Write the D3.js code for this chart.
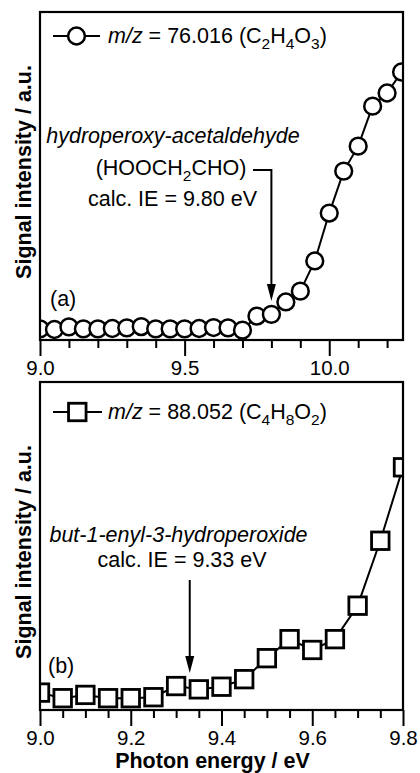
<!DOCTYPE html>
<html>
<head>
<meta charset="utf-8">
<script src="https://cdn.jsdelivr.net/npm/d3@7"></script>
<style>
  html, body { margin: 0; padding: 0; background: #fff; }
  svg { display: block; }
  text { font-family: "Liberation Sans", Arial, sans-serif; fill: #000; }
</style>
</head>
<body>
<svg id="chart" width="420" height="773"></svg>
<script>
// Panel (a): m/z = 76.016 photoionization efficiency curve
const energyA = [9.00, 9.05, 9.10, 9.15, 9.20, 9.25, 9.30, 9.35, 9.40, 9.45, 9.50, 9.55, 9.60,
                 9.65, 9.70, 9.75, 9.80, 9.85, 9.90, 9.95, 10.00, 10.05, 10.10, 10.15, 10.20, 10.25];
const signalA = [3.4, 3.2, 4.0, 3.4, 3.4, 3.5, 3.7, 4.1, 3.4, 3.4, 3.4, 3.5, 3.8,
                 3.7, 3.0, 7.3, 7.8, 11.6, 14.9, 24.1, 38.7, 51.5, 59.1, 71.3, 75.3, 81.7];
const ticksA = [9.0, 9.1, 9.2, 9.3, 9.4, 9.5, 9.6, 9.7, 9.8, 9.9, 10.0, 10.1, 10.2];
const tickLabelsA = [9.0, 9.5, 10.0];

// Panel (b): m/z = 88.052 photoionization efficiency curve
const energyB = [9.00, 9.05, 9.10, 9.15, 9.20, 9.25, 9.30, 9.35, 9.40, 9.45, 9.50, 9.55, 9.60,
                 9.65, 9.70, 9.75, 9.80];
const signalB = [5.3, 3.6, 4.6, 3.6, 3.6, 3.9, 7.3, 6.3, 7.1, 9.4, 15.8, 21.6, 18.3,
                 21.6, 31.8, 51.6, 74.0];
const ticksB = [9.0, 9.05, 9.1, 9.15, 9.2, 9.25, 9.3, 9.35, 9.4, 9.45, 9.5, 9.55, 9.6,
                9.65, 9.7, 9.75, 9.8];
const tickLabelsB = [9.0, 9.2, 9.4, 9.6, 9.8];

// Calculated ionization energies marked with arrows
const ionizationEnergies = [9.80, 9.33];

const svg = d3.select("#chart");
const FONT = "Liberation Sans, Arial, sans-serif";
const R = 8.4;      // circle marker radius
const SQ = 17.5;    // square marker side

function panel(cfg) {
  const { left, right, top, bottom, xDomain, energies, signals, ticks, tickLabels, id } = cfg;
  const x = d3.scaleLinear().domain(xDomain).range([left, right]);
  const y = d3.scaleLinear().domain([0, 100]).range([bottom, top]);
  const g = svg.append("g");

  g.append("clipPath").attr("id", id)
    .append("rect").attr("x", left).attr("y", top)
    .attr("width", right - left).attr("height", bottom - top);

  // minor / major ticks below the axis
  const axis = d3.axisBottom(x).tickValues(ticks)
    .tickSize(8).tickSizeOuter(0).tickFormat("");
  const ax = g.append("g").attr("transform", `translate(0,${bottom})`).call(axis);
  ax.select(".domain").remove();
  ax.selectAll(".tick line").attr("stroke", "#000").attr("stroke-width", 2)
    .attr("y2", d => tickLabels.some(t => Math.abs(t - d) < 1e-9) ? 16 : 8);

  const lab = d3.axisBottom(x).tickValues(tickLabels).tickSize(0)
    .tickPadding(0).tickFormat(d3.format(".1f"));
  const lx = g.append("g").attr("transform", `translate(0,${bottom})`).call(lab);
  lx.select(".domain").remove();
  lx.selectAll(".tick text").attr("font-family", FONT).attr("font-size", 20.5)
    .attr("fill", "#000").attr("dy", null).attr("y", 35);

  const plot = g.append("g").attr("clip-path", `url(#${id})`);
  const pts = energies.map((e, i) => [e, signals[i]]);
  plot.append("path").datum(pts)
    .attr("fill", "none").attr("stroke", "#000").attr("stroke-width", 2)
    .attr("d", d3.line().x(d => x(d[0])).y(d => y(d[1])));

  // frame
  g.append("rect").attr("x", left).attr("y", top)
    .attr("width", right - left).attr("height", bottom - top)
    .attr("fill", "none").attr("stroke", "#000").attr("stroke-width", 2.2);

  return { g, plot, x, y, pts };
}

function formulaText(parent, xPos, yPos, size, parts, anchor) {
  const t = parent.append("text").attr("x", xPos).attr("y", yPos)
    .attr("font-size", size).attr("text-anchor", anchor || "start");
  parts.forEach(p => {
    const s = t.append("tspan").text(p.t);
    if (p.i) s.attr("font-style", "italic");
    if (p.sub) s.attr("font-size", size * 0.72).attr("dy", size * 0.28);
    if (p.back) s.attr("dy", -size * 0.28);
  });
  return t;
}

// ---------- Panel (a) ----------
const A = panel({ left: 40, right: 403, top: 12, bottom: 340, xDomain: [9.0, 10.255],
  energies: energyA, signals: signalA, ticks: ticksA, tickLabels: tickLabelsA, id: "clipA" });

A.plot.selectAll("circle.pt").data(A.pts).join("circle")
  .attr("cx", d => A.x(d[0])).attr("cy", d => A.y(d[1])).attr("r", R)
  .attr("fill", "#fff").attr("stroke", "#000").attr("stroke-width", 2.5);

// legend (a)
A.g.append("line").attr("x1", 53).attr("x2", 100).attr("y1", 36).attr("y2", 36)
  .attr("stroke", "#000").attr("stroke-width", 2.2);
A.g.append("circle").attr("cx", 76.5).attr("cy", 36).attr("r", R)
  .attr("fill", "#fff").attr("stroke", "#000").attr("stroke-width", 2.5);

formulaText(A.g, 108, 43, 21.5, [
  { t: "m/z", i: true }, { t: " = 76.016 (C" }, { t: "2", sub: true },
  { t: "H", back: true }, { t: "4", sub: true }, { t: "O", back: true },
  { t: "3", sub: true }, { t: ")", back: true }]);

A.g.append("text").attr("x", 173).attr("y", 143).attr("font-size", 21.5)
  .attr("font-style", "italic").attr("text-anchor", "middle").text("hydroperoxy-acetaldehyde");
formulaText(A.g, 171, 175, 21.5, [
  { t: "(HOOCH" }, { t: "2", sub: true }, { t: "CHO)", back: true }], "middle");
A.g.append("text").attr("x", 172.5).attr("y", 206).attr("font-size", 21.5)
  .attr("text-anchor", "middle").text("calc. IE = 9.80 eV");

// arrow (a)
const axA = A.x(ionizationEnergies[0]);
A.g.append("path")
  .attr("d", `M253,170 H${axA} V288`)
  .attr("fill", "none").attr("stroke", "#000").attr("stroke-width", 2);
A.g.append("path")
  .attr("d", `M${axA - 4.5},284 L${axA + 4.5},284 L${axA},301 Z`).attr("fill", "#000");

A.g.append("text").attr("x", 50).attr("y", 306).attr("font-size", 21.5).text("(a)");

// ---------- Panel (b) ----------
const B = panel({ left: 40, right: 403, top: 382, bottom: 710, xDomain: [9.0, 9.8],
  energies: energyB, signals: signalB, ticks: ticksB, tickLabels: tickLabelsB, id: "clipB" });

B.plot.selectAll("rect.pt").data(B.pts).join("rect")
  .attr("x", d => B.x(d[0]) - SQ / 2).attr("y", d => B.y(d[1]) - SQ / 2)
  .attr("width", SQ).attr("height", SQ)
  .attr("fill", "#fff").attr("stroke", "#000").attr("stroke-width", 2.8);

// legend (b)
B.g.append("line").attr("x1", 53).attr("x2", 102).attr("y1", 412).attr("y2", 412)
  .attr("stroke", "#000").attr("stroke-width", 2.2);
B.g.append("rect").attr("x", 77.3 - SQ / 2).attr("y", 412 - SQ / 2)
  .attr("width", SQ).attr("height", SQ)
  .attr("fill", "#fff").attr("stroke", "#000").attr("stroke-width", 2.8);

formulaText(B.g, 108, 419, 21.5, [
  { t: "m/z", i: true }, { t: " = 88.052 (C" }, { t: "4", sub: true },
  { t: "H", back: true }, { t: "8", sub: true }, { t: "O", back: true },
  { t: "2", sub: true }, { t: ")", back: true }]);

B.g.append("text").attr("x", 178.5).attr("y", 542).attr("font-size", 21.5)
  .attr("font-style", "italic").attr("text-anchor", "middle").text("but-1-enyl-3-hydroperoxide");
B.g.append("text").attr("x", 182).attr("y", 567).attr("font-size", 21.5)
  .attr("text-anchor", "middle").text("calc. IE = 9.33 eV");

const axB = B.x(ionizationEnergies[1]);
B.g.append("line").attr("x1", axB).attr("x2", axB).attr("y1", 580).attr("y2", 660)
  .attr("stroke", "#000").attr("stroke-width", 2);
B.g.append("path")
  .attr("d", `M${axB - 4.5},656 L${axB + 4.5},656 L${axB},673 Z`).attr("fill", "#000");

B.g.append("text").attr("x", 48).attr("y", 673).attr("font-size", 21.5).text("(b)");

// ---------- axis titles ----------
[[172, "Signal intensity / a.u."], [552, "Signal intensity / a.u."]].forEach(([cy, label]) => {
  svg.append("text").attr("transform", `translate(31,${cy}) rotate(-90)`)
    .attr("text-anchor", "middle").attr("font-size", 21.5).attr("font-weight", "bold")
    .text(label);
});
svg.append("text").attr("x", 212.5).attr("y", 768).attr("text-anchor", "middle")
  .attr("font-size", 21.5).attr("font-weight", "bold").text("Photon energy / eV");
</script>
</body>
</html>
